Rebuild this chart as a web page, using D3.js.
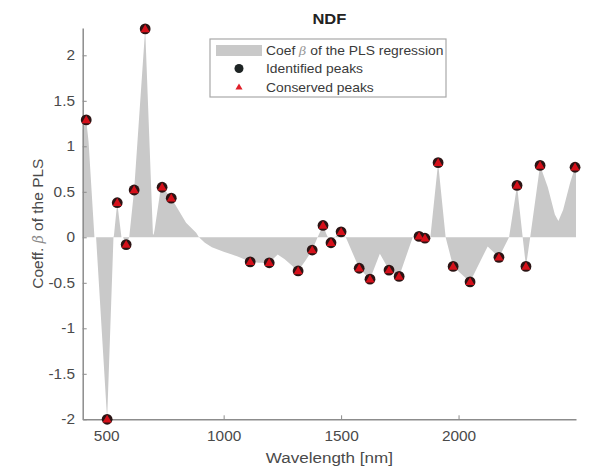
<!DOCTYPE html>
<html>
<head>
<meta charset="utf-8">
<script src="https://cdn.jsdelivr.net/npm/d3@7/dist/d3.min.js"></script>
<style>
  html, body { margin: 0; padding: 0; background: #fff; }
  svg { display: block; font-family: "Liberation Sans", Arial, Helvetica, sans-serif; }
</style>
</head>
<body>
<svg id="chart" width="600" height="467"></svg>
<script>
// PLS regression coefficient curve (wavelength in nm, coefficient)
const curveWavelength = [400, 415, 425, 450, 457, 504, 531, 533, 547, 565, 572, 585, 598, 619, 666, 699, 702, 706, 730, 738, 755, 777, 798, 840, 883, 895,
  920, 950, 1000, 1060, 1113, 1150, 1194, 1230, 1260, 1317, 1350, 1377, 1400, 1423, 1440, 1457, 1480, 1500, 1520,
  1577, 1623, 1665, 1704, 1747, 1805, 1832, 1857, 1880, 1913, 1945, 1977, 2049, 2124, 2172, 2215,
  2249, 2273, 2287, 2305, 2347, 2380, 2410, 2425, 2445, 2475, 2496, 2500];
const curveCoef = [1.18, 1.29, 1.05, 0.0, 0.0, -2.0, 0.0, 0.02, 0.38, 0.0, 0.0, -0.08, 0.0, 0.52, 2.29, 0.03, 0.03, 0.08, 0.5, 0.55, 0.5, 0.43, 0.34, 0.16, 0.05, 0.0,
  -0.06, -0.11, -0.16, -0.21, -0.27, -0.28, -0.28, -0.19, -0.24, -0.37, -0.25, -0.14, 0.0, 0.13, 0.02, -0.06, 0.02, 0.06, 0.0,
  -0.34, -0.46, -0.18, -0.36, -0.43, 0.0, 0.01, -0.01, 0.0, 0.82, 0.0, -0.32, -0.49, -0.10, -0.22, 0.0,
  0.57, 0.0, -0.32, 0.0, 0.79, 0.55, 0.25, 0.18, 0.3, 0.6, 0.77, 0.7];

// Peaks found on the coefficient curve
const peakWavelength = [415, 504, 547, 585, 619, 666, 738, 777, 1113, 1194, 1317, 1377, 1423, 1457, 1500,
  1577, 1623, 1704, 1747, 1832, 1857, 1913, 1977, 2049, 2172, 2249, 2287, 2347, 2496];
const peakCoef = [1.29, -2.0, 0.38, -0.08, 0.52, 2.29, 0.55, 0.43, -0.27, -0.28, -0.37, -0.14, 0.13, -0.06, 0.06,
  -0.34, -0.46, -0.36, -0.43, 0.01, -0.01, 0.82, -0.32, -0.49, -0.22, 0.57, -0.32, 0.79, 0.77];

const xTicks = [500, 1000, 1500, 2000];
const yTicks = [-2, -1.5, -1, -0.5, 0, 0.5, 1, 1.5, 2];
const legendLabels = ["Coef \u03B2 of the PLS regression", "Identified peaks", "Conserved peaks"];

const svg = d3.select("#chart");
const plotLeft = 82.7, plotRight = 576, plotTop = 28, plotBottom = 419.3;
const x = d3.scaleLinear().domain([400, 2500]).range([plotLeft, plotRight]);
const y = d3.scaleLinear().domain([-2, 2.3]).range([plotBottom, plotTop]);

const axisColor = "#8c8c8c";
const textColor = "#4a4a4a";
const stretch = "scale(1.1,1)";

const curve = curveWavelength.map((w, i) => ({ w, v: curveCoef[i] }));
const peaks = peakWavelength.map((w, i) => ({ w, v: peakCoef[i] }));

// filled coefficient area against zero
svg.append("path")
  .datum(curve)
  .attr("fill", "#c9c9c9")
  .attr("d", d3.area().x(d => x(d.w)).y0(y(0)).y1(d => y(d.v)));

// axes
const xAxis = svg.append("g")
  .attr("transform", `translate(0,${plotBottom})`)
  .call(d3.axisBottom(x).tickValues(xTicks).tickSizeInner(-4).tickSizeOuter(0).tickPadding(12).tickFormat(d3.format("d")));
const yAxis = svg.append("g")
  .attr("transform", `translate(${plotLeft},0)`)
  .call(d3.axisLeft(y).tickValues(yTicks).tickSizeInner(-4).tickSizeOuter(0).tickPadding(7));
[xAxis, yAxis].forEach(g => {
  g.select(".domain").attr("stroke", axisColor).attr("stroke-width", 1.5);
  g.selectAll(".tick line").attr("stroke", axisColor);
  g.selectAll(".tick text").attr("fill", textColor).attr("font-size", 14).attr("transform", stretch);
});
yAxis.selectAll(".tick text").text(d => d < 0 ? "-" + Math.abs(d) : String(d));

// peak markers: black circle with red triangle on top
const peakG = svg.append("g");
peakG.selectAll("circle").data(peaks).join("circle")
  .attr("cx", d => x(d.w)).attr("cy", d => y(d.v)).attr("r", 5.4)
  .attr("fill", "#2b1414");
peakG.selectAll("path").data(peaks).join("path")
  .attr("transform", d => `translate(${x(d.w)},${y(d.v) + 0.6})`)
  .attr("d", d3.symbol(d3.symbolTriangle, 36)())
  .attr("fill", "#d5101a");

// title and axis labels
const cx = (plotLeft + plotRight) / 2;
svg.append("text").attr("transform", `translate(${cx},24) ${stretch}`)
  .attr("text-anchor", "middle").attr("font-weight", "bold").attr("font-size", 15)
  .attr("fill", "#222").text("NDF");
svg.append("text").attr("transform", `translate(${cx},463) ${stretch}`)
  .attr("text-anchor", "middle").attr("font-size", 15.5).attr("fill", textColor)
  .text("Wavelength [nm]");
const yl = svg.append("text")
  .attr("transform", `translate(43,${(plotTop + plotBottom) / 2}) rotate(-90)`)
  .attr("text-anchor", "middle").attr("font-size", 15.5).attr("fill", textColor);
yl.append("tspan").text("Coeff. ");
yl.append("tspan").attr("font-style", "italic").attr("font-family", "DejaVu Serif, serif").attr("font-size", 14).attr("fill", "#888").text("\u03B2");
yl.append("tspan").text(" of the PLS");

// legend
const lg = svg.append("g").attr("transform", "translate(210,39)");
lg.append("rect").attr("width", 236).attr("height", 58)
  .attr("fill", "#fff").attr("stroke", "#a8a8a8").attr("stroke-width", 1.2);
const rowY = [11, 29.5, 48];
lg.append("rect").attr("x", 6).attr("y", rowY[0] - 5).attr("width", 46).attr("height", 11).attr("fill", "#c9c9c9");
lg.append("circle").attr("cx", 29).attr("cy", rowY[1]).attr("r", 4.5).attr("fill", "#1e2424");
lg.append("path").attr("transform", `translate(29,${rowY[2] + 0.5})`)
  .attr("d", d3.symbol(d3.symbolTriangle, 22)()).attr("fill", "#e0202a");
const lt = lg.selectAll("text.lab").data(legendLabels).join("text")
  .attr("class", "lab")
  .attr("transform", (d, i) => `translate(56,${rowY[i] + 4.5}) ${stretch}`)
  .attr("font-size", 12.6).attr("fill", "#3a3a3a");
lt.each(function (d, i) {
  const t = d3.select(this);
  if (i === 0) {
    t.append("tspan").text("Coef ");
    t.append("tspan").attr("font-style", "italic").attr("font-family", "DejaVu Serif, serif").attr("font-size", 11.5).attr("fill", "#999").text("\u03B2");
    t.append("tspan").text(" of the PLS regression");
  } else {
    t.text(d);
  }
});
</script>
</body>
</html>
